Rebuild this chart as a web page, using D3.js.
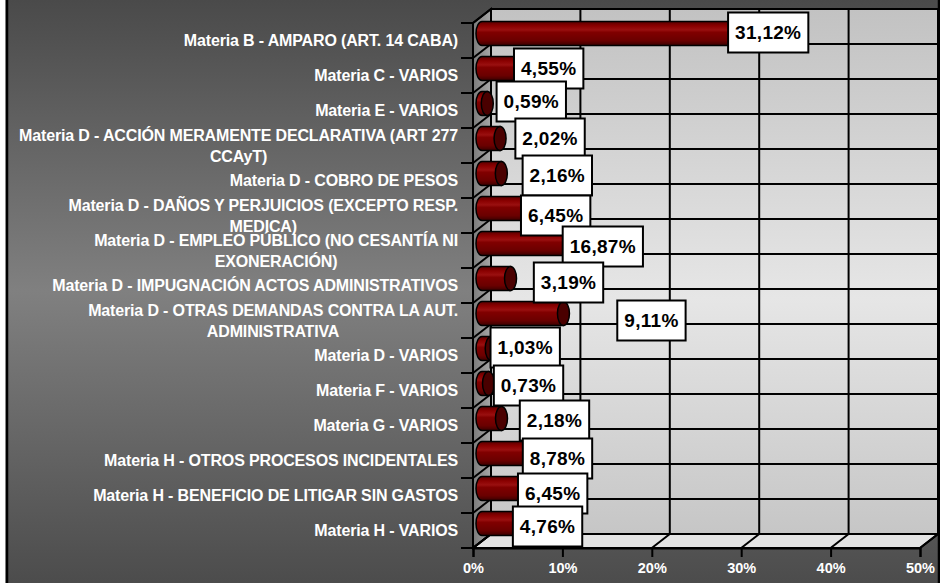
<!DOCTYPE html>
<html><head><meta charset="utf-8">
<script src="https://cdn.jsdelivr.net/npm/d3@7/dist/d3.min.js"></script>
<style>html,body{margin:0;padding:0;background:#fff;}svg{display:block;}</style>
</head><body>
<script>
const categories = [
  "Materia B - AMPARO (ART. 14 CABA)",
  "Materia C - VARIOS",
  "Materia E - VARIOS",
  "Materia D - ACCIÓN MERAMENTE DECLARATIVA (ART 277\nCCAyT)",
  "Materia D - COBRO DE PESOS",
  "Materia D - DAÑOS Y PERJUICIOS (EXCEPTO RESP.\nMEDICA)",
  "Materia D - EMPLEO PÚBLICO (NO CESANTÍA NI\nEXONERACIÓN)",
  "Materia D - IMPUGNACIÓN ACTOS ADMINISTRATIVOS",
  "Materia D - OTRAS DEMANDAS CONTRA LA AUT.\nADMINISTRATIVA",
  "Materia D - VARIOS",
  "Materia F - VARIOS",
  "Materia G -  VARIOS",
  "Materia H - OTROS PROCESOS INCIDENTALES",
  "Materia H - BENEFICIO DE LITIGAR SIN GASTOS",
  "Materia H - VARIOS"
];
const values = [31.12, 4.55, 0.59, 2.02, 2.16, 6.45, 16.87, 3.19, 9.11, 1.03, 0.73, 2.18, 8.78, 6.45, 4.76];
const xTicks = [0, 10, 20, 30, 40, 50];

// manual placement of the data-label boxes (as moved in the original chart)
const labelDx = [8, 26, 44, 50, 56, 16, -30, 58, 88, 34, 40, 53, -3, 13, 23];
const labelDy = [-8, -7, -9, -7, -5, 0, -4, -3, 0, -8, -5, -5, -2, -2, -4];

const W = 940, H = 583;
const svg = d3.select("body").append("svg").attr("width", W).attr("height", H);
const defs = svg.append("defs");

// background gradient
const bg = defs.append("linearGradient").attr("id", "bg").attr("x1", 0).attr("y1", 0).attr("x2", 0).attr("y2", 1);
bg.append("stop").attr("offset", "0%").attr("stop-color", "#4a4a4a");
bg.append("stop").attr("offset", "50%").attr("stop-color", "#808080");
bg.append("stop").attr("offset", "100%").attr("stop-color", "#4c4c4c");

const wall = defs.append("linearGradient").attr("id", "wall").attr("x1", 0).attr("y1", 0).attr("x2", 0).attr("y2", 1);
wall.append("stop").attr("offset", "0%").attr("stop-color", "#c2c2c2");
wall.append("stop").attr("offset", "55%").attr("stop-color", "#e6e6e6");
wall.append("stop").attr("offset", "100%").attr("stop-color", "#c6c6c6");

const side = defs.append("linearGradient").attr("id", "side").attr("x1", 0).attr("y1", 0).attr("x2", 1).attr("y2", 0);
side.append("stop").attr("offset", "0%").attr("stop-color", "#7a7a7a");
side.append("stop").attr("offset", "100%").attr("stop-color", "#a8a8a8");

const barG = defs.append("linearGradient").attr("id", "bar").attr("x1", 0).attr("y1", 0).attr("x2", 0).attr("y2", 1);
[["0%", "#5a0000"], ["18%", "#8a0000"], ["35%", "#9a1010"], ["45%", "#800000"], ["80%", "#6a0000"], ["100%", "#3a0000"]]
  .forEach(([o, c]) => barG.append("stop").attr("offset", o).attr("stop-color", c));

svg.append("rect").attr("x", 0).attr("y", 0).attr("width", W).attr("height", H).attr("fill", "url(#bg)");
svg.append("rect").attr("x", 0).attr("y", 0).attr("width", 5.5).attr("height", H).attr("fill", "#fff");
svg.append("line").attr("x1", 7).attr("x2", 7).attr("y1", 0).attr("y2", H).attr("stroke", "#000").attr("stroke-width", 2.5);
svg.append("line").attr("x1", 939).attr("x2", 939).attr("y1", 0).attr("y2", H).attr("stroke", "#000").attr("stroke-width", 2.5);

// scales
const x = d3.scaleLinear().domain([0, 50]).range([473, 920]);
const y = d3.scaleBand().domain(categories).range([23, 548]);
const DX = 18, DY = -14;
const bw = y.bandwidth();

const x0 = x(0), x1 = x(50), yTop = y.range()[0], yBot = y.range()[1];

// back wall
svg.append("rect").attr("x", x0 + DX).attr("y", yTop + DY).attr("width", x1 - x0).attr("height", yBot - yTop)
  .attr("fill", "url(#wall)").attr("stroke", "#000").attr("stroke-width", 2);
// side wall
svg.append("path").attr("d", `M${x0},${yTop}L${x0 + DX},${yTop + DY}L${x0 + DX},${yBot + DY}L${x0},${yBot}Z`)
  .attr("fill", "url(#side)").attr("stroke", "#000").attr("stroke-width", 2);
// floor
svg.append("path").attr("d", `M${x0},${yBot}L${x1},${yBot}L${x1 + DX},${yBot + DY}L${x0 + DX},${yBot + DY}Z`)
  .attr("fill", "#e4e4e4").attr("stroke", "#000").attr("stroke-width", 2);

const grid = svg.append("g").attr("stroke", "#000").attr("stroke-width", 2);
// horizontal gridlines on back wall and diagonals on side wall
const bounds = categories.map(c => y(c)).concat([yBot]);
bounds.forEach(b => {
  grid.append("line").attr("x1", x0 + DX).attr("x2", x1 + DX).attr("y1", b + DY).attr("y2", b + DY);
  grid.append("line").attr("x1", x0).attr("x2", x0 + DX).attr("y1", b).attr("y2", b + DY);
  grid.append("line").attr("x1", x0 - 12).attr("x2", x0).attr("y1", b).attr("y2", b);
});
// vertical gridlines on back wall and diagonals on floor
xTicks.forEach(t => {
  grid.append("line").attr("x1", x(t) + DX).attr("x2", x(t) + DX).attr("y1", yTop + DY).attr("y2", yBot + DY);
  grid.append("line").attr("x1", x(t)).attr("x2", x(t) + DX).attr("y1", yBot).attr("y2", yBot + DY);
});
grid.append("line").attr("x1", x0).attr("x2", x0).attr("y1", yTop).attr("y2", yBot);

// x axis
const xAxis = svg.append("g").attr("transform", `translate(0,${yBot})`)
  .call(d3.axisBottom(x).tickValues(xTicks).tickFormat(d => d + "%").tickSize(9).tickPadding(6));
xAxis.select(".domain").attr("stroke", "#000").attr("stroke-width", 2);
xAxis.selectAll(".tick line").attr("stroke", "#000").attr("stroke-width", 2);
xAxis.selectAll(".tick text").attr("fill", "#fff").attr("font-family", "Liberation Sans, Arial, sans-serif")
  .attr("font-weight", "bold").attr("font-size", "14.5px");

// category labels
const catG = svg.append("g").attr("font-family", "Liberation Sans, Arial, sans-serif")
  .attr("font-weight", "bold").attr("font-size", "16px").attr("fill", "#fff")
  .attr("letter-spacing", "-0.15px");
categories.forEach(c => {
  const lines = c.split("\n");
  const cy = y(c) + bw / 2;
  const lh = 21.5;
  const t = catG.append("text").attr("text-anchor", "middle");
  const spans = lines.map((ln, i) => t.append("tspan").attr("y", cy + (i - (lines.length - 1) / 2) * lh).attr("dy", "0.36em").text(ln));
  let maxW = 0;
  spans.forEach(s => { maxW = Math.max(maxW, s.node().getComputedTextLength()); });
  const cx = 458 - maxW / 2;
  spans.forEach(s => s.attr("x", cx));
});

// bars (cylinders at mid depth)
const bars = svg.append("g");
const rx = 6, ry = 12;
categories.forEach((c, i) => {
  const v = values[i];
  const yc = y(c) + bw / 2 + DY / 2;
  const xa = x(0) + DX / 2, xb = x(v) + DX / 2;
  const g = bars.append("g");
  g.append("path")
    .attr("d", `M${xb},${yc - ry}L${xa},${yc - ry}A${rx},${ry} 0 0 0 ${xa},${yc + ry}L${xb},${yc + ry}Z`)
    .attr("fill", "url(#bar)").attr("stroke", "#000").attr("stroke-width", 1.5);
  g.append("ellipse").attr("cx", xb).attr("cy", yc).attr("rx", rx).attr("ry", ry)
    .attr("fill", "#4a0000").attr("stroke", "#000").attr("stroke-width", 1.5);
});

// data labels
const fmt = v => d3.format(".2f")(v).replace(".", ",") + "%";
const lab = svg.append("g");
categories.forEach((c, i) => {
  const v = values[i];
  const cx = x(v) + DX / 2 + labelDx[i];
  const cy = y(c) + bw / 2 + labelDy[i];
  const g = lab.append("g");
  const r = g.append("rect");
  const t = g.append("text").attr("x", cx).attr("y", cy).attr("dy", "0.36em").attr("text-anchor", "middle")
    .attr("font-family", "Liberation Sans, Arial, sans-serif").attr("font-weight", "bold")
    .attr("font-size", "19px").attr("fill", "#000").attr("letter-spacing", "0.3px").text(fmt(v));
  const w = t.node().getComputedTextLength() + 14;
  const h = 40;
  r.attr("x", cx - w / 2).attr("y", cy - h / 2).attr("width", w).attr("height", h)
    .attr("fill", "#fff").attr("stroke", "#000").attr("stroke-width", 2);
});
</script>
</body></html>
